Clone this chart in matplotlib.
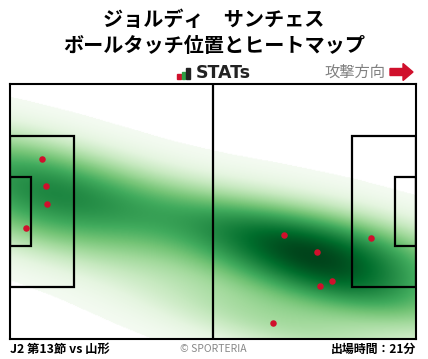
import numpy as np
import matplotlib
matplotlib.use("Agg")
import matplotlib.pyplot as plt
from matplotlib.patches import Rectangle, FancyArrow

plt.rcParams['font.family'] = ['Noto Sans CJK JP', 'DejaVu Sans']

# Data (pitch coordinates, 105 x 68, y measured from top)
touch_x = [8.3, 9.3, 9.6, 4.1, 70.9, 79.4, 83.3, 80.2, 68.0, 93.4]
touch_y = [20.0, 27.2, 32.0, 38.4, 40.3, 44.8, 52.5, 53.9, 63.7, 41.1]

title_lines = ["ジョルディ　サンチェス", "ボールタッチ位置とヒートマップ"]
match_label = "J2 第13節 vs 山形"
minutes_label = "出場時間：21分"

W, H = 428, 359
fig = plt.figure(figsize=(W / 100, H / 100), dpi=100)

ax = fig.add_axes([10 / W, (H - 339) / H, 406 / W, 255 / H])

# Gaussian KDE (Scott's rule, adjusted bandwidth)
pts = np.vstack([touch_x, touch_y])
n = pts.shape[1]
bw_adjust = 1.0
factor = n ** (-1 / 6) * bw_adjust
cov = np.cov(pts) * factor ** 2
inv = np.linalg.inv(cov)
gx = np.linspace(0, 105, 420)
gy = np.linspace(0, 68, 272)
GX, GY = np.meshgrid(gx, gy)
dens = np.zeros_like(GX)
for px, py in zip(touch_x, touch_y):
    dx = GX - px
    dy = GY - py
    q = inv[0, 0] * dx * dx + 2 * inv[0, 1] * dx * dy + inv[1, 1] * dy * dy
    dens += np.exp(-0.5 * q)
dens /= dens.max()
masked = np.ma.masked_less(dens, 0.02)
cmap = plt.get_cmap('Greens').copy()
cmap.set_bad((1, 1, 1, 0))
ax.imshow(masked, extent=(0, 105, 68, 0), origin='upper', cmap=cmap, vmin=0, vmax=1,
          interpolation='bilinear', aspect='auto', zorder=1)

ax.set_xlim(0, 105)
ax.set_ylim(68, 0)
ax.set_xticks([])
ax.set_yticks([])
for s in ax.spines.values():
    s.set_linewidth(1.5)
    s.set_color('black')

lw = 1.6
ax.plot([52.5, 52.5], [0, 68], color='black', lw=lw, zorder=3)
pb_w, pb_h = 16.5, 40.32
ga_w, ga_h = 5.5, 18.32
for x0, w in [(0, pb_w), (105 - pb_w, pb_w)]:
    ax.add_patch(Rectangle((x0, (68 - pb_h) / 2), w, pb_h, fill=False, ec='black', lw=lw, zorder=3))
for x0, w in [(0, ga_w), (105 - ga_w, ga_w)]:
    ax.add_patch(Rectangle((x0, (68 - ga_h) / 2), w, ga_h, fill=False, ec='black', lw=lw, zorder=3))

ax.scatter(touch_x, touch_y, s=22, color='#d0102c', zorder=4, linewidths=0)

# Titles
fig.text(0.5, 1 - 20 / H, title_lines[0], ha='center', va='center', fontsize=14.5, fontweight='bold')
fig.text(0.5, 1 - 45 / H, title_lines[1], ha='center', va='center', fontsize=14.5, fontweight='bold')

# STATs logo
for i, (c, h) in enumerate([('#d0102c', 5), ('#2e9e44', 7), ('#222222', 11)]):
    fig.patches.append(Rectangle(((177 + i * 4.5) / W, 1 - 79 / H), 3.5 / W, h / H,
                                 transform=fig.transFigure, color=c))
fig.text(196 / W, 1 - 73 / H, "STATs", ha='left', va='center', fontsize=12.5,
         fontweight='bold', color='#222222', family=['DejaVu Sans'])

# attack direction
fig.text(385 / W, 1 - 72 / H, "攻撃方向", ha='right', va='center', fontsize=11, color='#808080')
fig.patches.append(FancyArrow(390 / W, 1 - 72 / H, 23 / W, 0, width=7 / H,
                              head_width=17 / H, head_length=10 / W,
                              length_includes_head=True, transform=fig.transFigure,
                              color='#d0102c'))

# footer
fig.text(10 / W, 1 - 349 / H, match_label, ha='left', va='center', fontsize=8.9, fontweight='bold')
fig.text(213 / W, 1 - 349 / H, "© SPORTERIA", ha='center', va='center', fontsize=7.5, color='#888888')
fig.text(416 / W, 1 - 349 / H, minutes_label, ha='right', va='center', fontsize=8.6, fontweight='bold')

fig.savefig("out.png", dpi=100)
